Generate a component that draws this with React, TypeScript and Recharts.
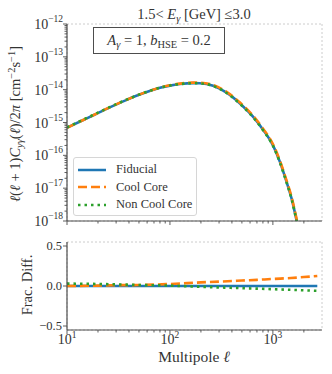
import React from 'react';
import { LineChart, Line, XAxis, YAxis, CartesianGrid, Legend } from 'recharts';

// multipoles sampled for the top panel
const ell = [10, 13.4, 18, 26, 38, 55, 80, 100, 125, 168, 195, 263, 355, 479, 644, 806, 1000, 1170, 1358, 1518, 1698, 1850];
const fiducial = [6.9e-16, 1.07e-15, 1.66e-15, 2.88e-15, 4.9e-15, 7.76e-15, 1.135e-14, 1.33e-14, 1.48e-14, 1.58e-14, 1.57e-14, 1.32e-14, 8.1e-15, 3.8e-15, 1.48e-15, 5.9e-16, 2.04e-16, 6.3e-17, 1.55e-17, 4.9e-18, 1.05e-18, 2.8e-19];
const coolCore = [6.9e-16, 1.072e-15, 1.667e-15, 2.9e-15, 4.95e-15, 7.85e-15, 1.158e-14, 1.363e-14, 1.524e-14, 1.643e-14, 1.637e-14, 1.386e-14, 8.57e-15, 4.05e-15, 1.59e-15, 6.37e-16, 2.22e-16, 6.88e-17, 1.7e-17, 5.39e-18, 1.16e-18, 3.1e-19];
const nonCoolCore = [7.11e-16, 1.1e-15, 1.703e-15, 2.94e-15, 4.98e-15, 7.85e-15, 1.144e-14, 1.337e-14, 1.48e-14, 1.571e-14, 1.556e-14, 1.3e-14, 7.93e-15, 3.7e-15, 1.433e-15, 5.69e-16, 1.96e-16, 6.04e-17, 1.48e-17, 4.68e-18, 1.0e-18, 2.67e-19];

// fractional differences (bottom panel)
const ellDiff = [10, 20, 30, 50, 100, 200, 300, 500, 700, 1000, 1500, 2000, 2700];
const diffFiducial = [0, 0, 0, 0, 0, 0, 0, 0, 0, 0, 0, 0, 0];
const diffCoolCore = [0.0, 0.005, 0.01, 0.012, 0.025, 0.045, 0.055, 0.068, 0.077, 0.088, 0.1, 0.112, 0.125];
const diffNonCoolCore = [0.03, 0.025, 0.02, 0.013, 0.005, -0.01, -0.018, -0.027, -0.033, -0.04, -0.048, -0.054, -0.06];

const xMajorTicks = [10, 100, 1000];
const xMinorTicks = [20, 30, 40, 50, 60, 70, 80, 90, 200, 300, 400, 500, 600, 700, 800, 900, 2000];
const yMajorTicks = [1e-18, 1e-17, 1e-16, 1e-15, 1e-14, 1e-13, 1e-12];
const diffTicks = [-0.5, 0, 0.5];
const diffTickLabels = ['\u22120.5', '0.0', '0.5'];

const seriesNames = ['Fiducial', 'Cool Core', 'Non Cool Core'];
const colors = ['#1f77b4', '#ff7f0e', '#2ca02c'];
const dashes = [undefined, '9 4', '2.5 4'];

const FONT = '"Liberation Serif", "Times New Roman", serif';
const TEXT = '#333';
const FRAME = '#4d4d4d';
const GRID = '#cccccc';

const topData = ell.map((l, i) => ({ ell: l, fid: fiducial[i], cc: coolCore[i], ncc: nonCoolCore[i] }));
const diffData = ellDiff.map((l, i) => ({ ell: l, fid: diffFiducial[i], cc: diffCoolCore[i], ncc: diffNonCoolCore[i] }));

// minor ticks 2..9 within each decade of the y axis
const yMinorTicks: number[] = [];
yMajorTicks.slice(0, -1).forEach((d) => {
  for (let k = 2; k <= 9; k++) yMinorTicks.push(d * k);
});

const isDecade = (v: number) => Math.abs(Math.log10(v) - Math.round(Math.log10(v))) < 1e-6;
const expOf = (v: number) => {
  const e = Math.round(Math.log10(v));
  return e < 0 ? `\u2212${-e}` : `${e}`;
};

function XLogTick(props: any) {
  const { x, y, payload, showLabel } = props;
  const v = payload.value;
  const major = isDecade(v);
  return (
    <g>
      <line x1={x} x2={x} y1={y} y2={y + (major ? 4 : 2.5)} stroke={FRAME} strokeWidth={0.9} />
      {showLabel && major && (
        <text x={x} y={y + 14} textAnchor="middle" fill={TEXT} fontSize={14} fontFamily={FONT}>
          10<tspan dy={-6} fontSize={9.5}>{expOf(v)}</tspan>
        </text>
      )}
    </g>
  );
}

function YLogTick(props: any) {
  const { x, y, payload } = props;
  const v = payload.value;
  const major = isDecade(v);
  return (
    <g>
      <line x1={x} x2={x - (major ? 4 : 2.5)} y1={y} y2={y} stroke={FRAME} strokeWidth={0.9} />
      {major && (
        <text x={x - 4} y={y + 5} textAnchor="end" fill={TEXT} fontSize={14} fontFamily={FONT}>
          10<tspan dy={-7} fontSize={9.5}>{expOf(v)}</tspan>
        </text>
      )}
    </g>
  );
}

function YDiffTick(props: any) {
  const { x, y, payload } = props;
  const idx = diffTicks.indexOf(payload.value);
  return (
    <g>
      <line x1={x} x2={x - 4} y1={y} y2={y} stroke={FRAME} strokeWidth={0.9} />
      <text x={x - 5} y={y + 4} textAnchor="end" fill={TEXT} fontSize={12.5} fontFamily={FONT}>
        {diffTickLabels[idx]}
      </text>
    </g>
  );
}

function LegendBox() {
  return (
    <div
      style={{
        width: 124,
        height: 59,
        boxSizing: 'border-box',
        border: '1px solid #d6d6d6',
        borderRadius: 3,
        background: 'rgba(255,255,255,0.85)',
        fontFamily: FONT,
        fontSize: 12.5,
        color: TEXT,
        padding: '3px 0 0 4px',
      }}
    >
      {seriesNames.map((name, i) => (
        <div key={name} style={{ display: 'flex', alignItems: 'center', height: 17.5 }}>
          <svg width={30} height={8} style={{ marginRight: 8 }}>
            <line x1={0} x2={28} y1={4} y2={4} stroke={colors[i]} strokeWidth={2.5} strokeDasharray={dashes[i]} />
          </svg>
          <span>{name}</span>
        </div>
      ))}
    </div>
  );
}

const Sub = ({ children }: { children: React.ReactNode }) => (
  <span style={{ fontSize: '0.72em', position: 'relative', top: '0.3em' }}>{children}</span>
);
const Sup = ({ children }: { children: React.ReactNode }) => (
  <span style={{ fontSize: '0.72em', position: 'relative', top: '-0.45em' }}>{children}</span>
);

const abs = (left: number, top: number, extra: React.CSSProperties = {}): React.CSSProperties => ({
  position: 'absolute',
  left,
  top,
  whiteSpace: 'nowrap',
  lineHeight: 1,
  ...extra,
});

export default function App() {
  const lines = (data: any[]) =>
    (['fid', 'cc', 'ncc'] as const).map((key, i) => (
      <Line
        key={key}
        data={data}
        dataKey={key}
        name={seriesNames[i]}
        type="monotone"
        stroke={colors[i]}
        strokeWidth={2.6}
        strokeDasharray={dashes[i]}
        dot={false}
        activeDot={false}
        isAnimationActive={false}
      />
    ));

  return (
    <div style={{ position: 'absolute', left: 0, top: 0, width: 332, height: 374, background: '#fff', fontFamily: FONT, color: TEXT }}>
      <div style={{ position: 'absolute', left: 0, top: 0 }}>
        <LineChart width={332} height={232} data={topData} margin={{ top: 24, right: 10, left: 0, bottom: 0 }}>
          <CartesianGrid xAxisId="top" yAxisId="right" stroke={GRID} strokeDasharray="2 2" />
          <XAxis
            dataKey="ell"
            type="number"
            scale="log"
            domain={[10, 3000]}
            allowDataOverflow
            ticks={[...xMajorTicks, ...xMinorTicks]}
            interval={0}
            height={11}
            tickSize={0}
            tickMargin={0}
            tickLine={false}
            axisLine={{ stroke: FRAME, strokeWidth: 1.2 }}
            tick={(p: any) => <XLogTick {...p} />}
          />
          <XAxis
            xAxisId="top"
            orientation="top"
            type="number"
            scale="log"
            domain={[10, 3000]}
            allowDataOverflow
            ticks={xMajorTicks}
            height={0}
            tick={false}
            tickLine={false}
            axisLine={{ stroke: FRAME, strokeWidth: 1.2 }}
          />
          <YAxis
            type="number"
            scale="log"
            domain={[1e-18, 1e-12]}
            allowDataOverflow
            ticks={[...yMajorTicks, ...yMinorTicks]}
            interval={0}
            width={67}
            tickSize={0}
            tickMargin={0}
            tickLine={false}
            axisLine={{ stroke: FRAME, strokeWidth: 1.2 }}
            tick={(p: any) => <YLogTick {...p} />}
          />
          <YAxis
            yAxisId="right"
            orientation="right"
            type="number"
            scale="log"
            domain={[1e-18, 1e-12]}
            allowDataOverflow
            ticks={yMajorTicks}
            width={0}
            tick={false}
            tickLine={false}
            axisLine={{ stroke: FRAME, strokeWidth: 1.2 }}
          />
          <Legend
            layout="vertical"
            align="center"
            verticalAlign="middle"
            wrapperStyle={{ left: 73, top: 157, width: 124, height: 59 }}
            content={() => <LegendBox />}
          />
          {lines(topData)}
        </LineChart>
      </div>

      <div style={{ position: 'absolute', left: 0, top: 232 }}>
        <LineChart width={332} height={142} data={diffData} margin={{ top: 10, right: 10, left: 0, bottom: 0 }}>
          <CartesianGrid xAxisId="top" yAxisId="right" stroke={GRID} strokeDasharray="2 2" />
          <XAxis
            dataKey="ell"
            type="number"
            scale="log"
            domain={[10, 3000]}
            allowDataOverflow
            ticks={[...xMajorTicks, ...xMinorTicks]}
            interval={0}
            height={44}
            tickSize={0}
            tickMargin={0}
            tickLine={false}
            axisLine={{ stroke: FRAME, strokeWidth: 1.2 }}
            tick={(p: any) => <XLogTick {...p} showLabel />}
          />
          <XAxis
            xAxisId="top"
            orientation="top"
            type="number"
            scale="log"
            domain={[10, 3000]}
            allowDataOverflow
            ticks={xMajorTicks}
            height={0}
            tick={false}
            tickLine={false}
            axisLine={{ stroke: FRAME, strokeWidth: 1.2 }}
          />
          <YAxis
            type="number"
            domain={[-0.55, 0.55]}
            allowDataOverflow
            ticks={diffTicks}
            interval={0}
            width={67}
            tickSize={0}
            tickMargin={0}
            tickLine={false}
            axisLine={{ stroke: FRAME, strokeWidth: 1.2 }}
            tick={(p: any) => <YDiffTick {...p} />}
          />
          <YAxis
            yAxisId="right"
            orientation="right"
            type="number"
            domain={[-0.55, 0.55]}
            allowDataOverflow
            ticks={diffTicks}
            width={0}
            tick={false}
            tickLine={false}
            axisLine={{ stroke: FRAME, strokeWidth: 1.2 }}
          />
          {lines(diffData)}
        </LineChart>
      </div>

      {/* title */}
      <div style={abs(194, 14, { transform: 'translate(-50%, -50%)', fontSize: 14.5 })}>
        1.5&lt; <i>E</i><Sub><i>γ</i></Sub> [GeV] ≤3.0
      </div>

      {/* parameter box */}
      <div
        style={abs(93, 27, {
          width: 132,
          height: 27,
          boxSizing: 'border-box',
          border: `1.2px solid ${FRAME}`,
          background: '#fff',
          display: 'flex',
          alignItems: 'center',
          justifyContent: 'center',
          fontSize: 14.5,
        })}
      >
        <span>
          <i>A</i><Sub><i>γ</i></Sub> = 1, <i>b</i><Sub>HSE</Sub> = 0.2
        </span>
      </div>

      {/* y labels */}
      <div style={abs(15, 124, { transform: 'translate(-50%, -50%) rotate(-90deg)', fontSize: 14.5 })}>
        <i>ℓ</i>(<i>ℓ</i> + 1)<i>C</i><Sub><i>yγ</i></Sub>(<i>ℓ</i>)/2<i>π</i> [cm<Sup>−2</Sup>s<Sup>−1</Sup>]
      </div>
      <div style={abs(27, 285, { transform: 'translate(-50%, -50%) rotate(-90deg)', fontSize: 14.5 })}>
        Frac. Diff.
      </div>

      {/* x label */}
      <div style={abs(194, 357, { transform: 'translate(-50%, -50%)', fontSize: 15.5 })}>
        Multipole <i>ℓ</i>
      </div>
    </div>
  );
}
